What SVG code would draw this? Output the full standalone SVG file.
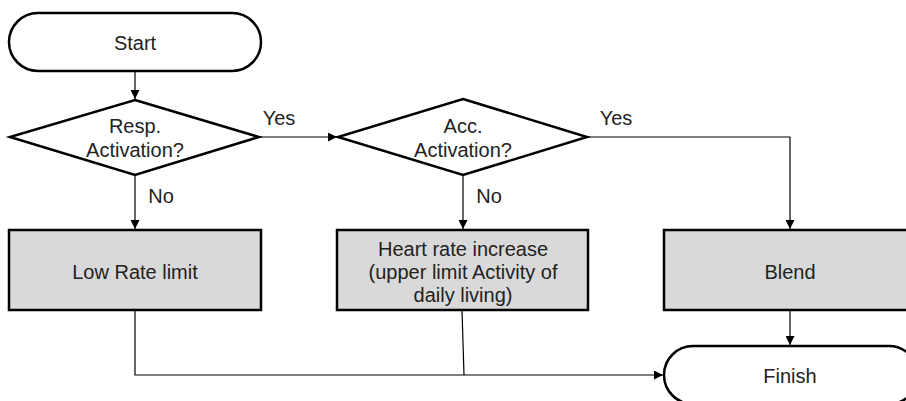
<svg xmlns="http://www.w3.org/2000/svg" width="906" height="401" viewBox="0 0 906 401">
<defs>
<style>
.shape{stroke:#000;stroke-width:2.5;fill:#fff}
.box{stroke:#000;stroke-width:2.5;fill:#d9d9d9}
.conn{stroke:#000;stroke-width:1.2;fill:none}
text{font-family:"Liberation Sans","Noto Sans",sans-serif;font-size:20px;fill:#222;text-anchor:middle}
</style>
<marker id="arr" viewBox="0 0 10 10" refX="10" refY="5" markerWidth="9" markerHeight="9" markerUnits="userSpaceOnUse" orient="auto">
<path d="M0,0 L10,5 L0,10 z" fill="#000"/>
</marker>
</defs>
<rect width="906" height="401" fill="#fff"/>
<g id="connectors">
<line class="conn" x1="135" y1="71" x2="135" y2="99" marker-end="url(#arr)"/>
<line class="conn" x1="260" y1="137" x2="337" y2="137" marker-end="url(#arr)"/>
<line class="conn" x1="135" y1="175" x2="135" y2="229" marker-end="url(#arr)"/>
<line class="conn" x1="463" y1="175" x2="463" y2="229" marker-end="url(#arr)"/>
<polyline class="conn" points="587,137 790,137 790,229" marker-end="url(#arr)"/>
<line class="conn" x1="790" y1="310" x2="790" y2="345" marker-end="url(#arr)"/>
<polyline class="conn" points="135,310 135,375 663,375" marker-end="url(#arr)"/>
<line class="conn" x1="462" y1="310" x2="464" y2="375"/>
<text x="279" y="125">Yes</text>
<text x="616" y="125">Yes</text>
<text x="161" y="203">No</text>
<text x="489" y="203">No</text>
</g>
<g id="start">
<rect class="shape" x="9" y="13" width="252" height="58" rx="29" ry="29"/>
<text x="135" y="50">Start</text>
</g>
<g id="resp">
<polygon class="shape" points="135,100 259,137 135,175 10,137"/>
<text x="135" y="133">Resp.</text>
<text x="135" y="157">Activation?</text>
</g>
<g id="acc">
<polygon class="shape" points="463,99 587,137 463,175 338,137"/>
<text x="463" y="133">Acc.</text>
<text x="463" y="157">Activation?</text>
</g>
<g id="lowrate">
<rect class="box" x="9" y="230" width="252" height="80"/>
<text x="135" y="279">Low Rate limit</text>
</g>
<g id="heartrate">
<rect class="box" x="337" y="230" width="251" height="80"/>
<text x="463" y="256">Heart rate increase</text>
<text x="463" y="279">(upper limit Activity of</text>
<text x="463" y="302">daily living)</text>
</g>
<g id="blend">
<rect class="box" x="664" y="230" width="254" height="80"/>
<text x="790" y="279">Blend</text>
</g>
<g id="finish">
<rect class="shape" x="664" y="346" width="254" height="58" rx="29" ry="29"/>
<text x="790" y="383">Finish</text>
</g>
</svg>
